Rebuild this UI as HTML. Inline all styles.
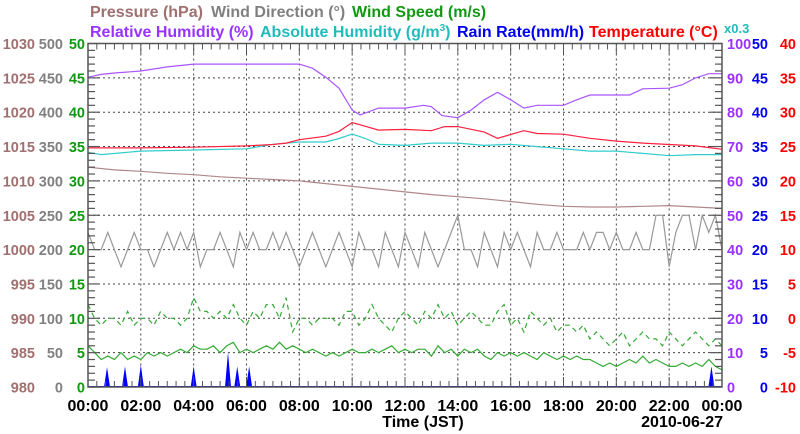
<!DOCTYPE html>
<html><head><meta charset="utf-8"><style>
html,body{margin:0;padding:0;background:#fff}
svg{display:block;font-family:"Liberation Sans",sans-serif;font-weight:bold}
</style></head><body>
<svg id="chart" width="800" height="434" viewBox="0 0 800 434">
<g id="grid"></g>
<g id="series"></g>
<g id="axes"></g>
<g font-size="16">
<text x="90" y="17" fill="#a07070">Pressure (hPa)</text>
<text x="211" y="17" fill="#808080">Wind Direction (°)</text>
<text x="352" y="17" fill="#119911">Wind Speed (m/s)</text>
<text x="90" y="37" fill="#9933ff">Relative Humidity (%)</text>
<text x="260" y="37" fill="#22bbbb">Absolute Humidity (g/m<tspan font-size="10" dy="-6">3</tspan><tspan dy="6">)</tspan></text>
<text x="457" y="37" fill="#0000ee">Rain Rate(mm/h)</text>
<text x="589" y="37" fill="#ff0000">Temperature (°C)</text>
<text x="724" y="33" font-size="13" fill="#22bbbb">x0.3</text>
</g>
<text x="423" y="427" text-anchor="middle" font-size="16" fill="#000">Time (JST)</text>
<text x="723" y="427" text-anchor="end" font-size="16" fill="#000">2010-06-27</text>
</svg>
<script>
// ---- data ----
const pressureHours = [0,1,2,3,4,5,6,7,8,9,10,11,12,13,14,15,16,17,18,19,20,21,22,23,24];
const pressureValues = [1012,1011.6,1011.4,1011.1,1010.9,1010.6,1010.4,1010.2,1010.0,1009.6,1009.2,1008.8,1008.4,1008.0,1007.7,1007.4,1007.0,1006.6,1006.3,1006.2,1006.2,1006.3,1006.4,1006.2,1006.0];
const windDirValues = [225,200,200,225,200,175,200,225,200,200,175,200,225,200,225,200,225,175,200,200,225,200,175,225,200,
225,200,200,225,200,225,200,175,200,225,200,175,200,225,200,175,225,200,200,175,225,200,175,225,
200,175,225,200,175,200,225,250,200,200,175,225,200,175,225,200,225,200,175,225,200,200,225,200,
200,200,225,200,225,225,200,225,200,200,225,200,200,250,250,175,225,250,250,200,250,225,250,200];
const windSpeedValues = [6,5,4,4.5,4,5,4,4.5,4,5,4.5,5,4.5,5,5.5,5,6,5.5,5.5,6,5,6,6.5,5,5.5,
5,5.5,6,5.5,6.5,5.5,6,5.5,5,5.5,5,4.5,5,4.5,5,5.5,5,5,5.5,5,5.5,6,5,5.5,
5,5.5,5.5,4.5,6,5,5.5,4.5,5.5,5,5.5,4.5,4,5,4.5,5,4.5,5,4.5,4,5,4.5,4,4.5,
4,4.5,4,4,3.5,3,3.5,3,3.5,4,3.5,4.5,3.5,4,3.5,3,3,3.5,3,3.5,3,4,3,2.5];
const windGustValues = [12,10,9,10,10,9,11,9,10,10,9,11,10,10,9,10,13,11,11,10,11,10,12,10,9,
11,10,12,12,10,13,8,10,10,9,10,10,10,9,11,11,9,10,12,10,9,8,10,11,
10,9,11,10,12,10,11,9,10,11,10,9,9,11,12,9,10,8,11,10,9,10,8,9,
9,8,9,7,8,7,6,7,8,6,7,8,7,7,6,8,7,6,7,8,7,6,7,6];
const halfHours = [0,0.5,1,2,3,4,6,8,8.5,9,9.5,10,10.3,11,12,12.7,13,13.4,14,14.5,15,15.5,16,16.5,17,18,18.5,19,19.5,20,20.5,21,22,22.5,23,23.5,24];
const rhValues = [90.2,91,91.4,92,93.2,94,94,94,92.8,90.2,87,80.6,79.2,81.2,81.2,82,81.6,79,78.4,80.6,83.6,85.8,83.6,81.2,82,82,83.6,85,85,85,85,86.8,87,88,90,91.2,91.2];
const tempHours = [0,2,4,6,7,7.5,8,9,9.5,10,11,12,13,13.5,14,15,15.5,16.5,17,18,19,20,21,22,23,24];
const tempValues = [24.8,24.8,24.9,25.1,25.3,25.5,26,26.5,27.2,28.5,27.4,27.5,27.3,27.9,27.9,27.1,26.2,27.3,26.9,26.8,26.2,25.8,25.5,25.3,25.1,24.6];
const absHours = [0,0.5,2,4,6,7,8,9,9.5,10,10.5,11,12,13,14,15,16,17,18,19,20,21,22,23,24];
const absHumValues = [20.5,20.3,20.6,20.7,20.8,21.2,21.4,21.4,21.7,22.1,21.7,21.2,21.1,21.3,21.3,21.1,21.2,21.0,20.8,20.6,20.6,20.4,20.2,20.3,20.3];
const rainTimes = [0.72,1.4,2.0,4.0,5.3,5.65,6.1,23.6];
const rainValues = [2.9,3.0,3.2,3.0,5.1,3.0,3.0,3.0];
const xTickLabels = ["00:00","02:00","04:00","06:00","08:00","10:00","12:00","14:00","16:00","18:00","20:00","22:00","00:00"];
const pressureTicks = [980,985,990,995,1000,1005,1010,1015,1020,1025,1030];
const dirTicks = [0,50,100,150,200,250,300,350,400,450,500];
const speedTicks = [0,5,10,15,20,25,30,35,40,45,50];
const rhTicks = [0,10,20,30,40,50,60,70,80,90,100];
const rainTicks = [0,5,10,15,20,25,30,35,40,45,50];
const tempTicks = [-10,-5,0,5,10,15,20,25,30,35,40];

// ---- scales ----
const X0=88, X1=722, Y0=387, Y1=43.5;
const NS="http://www.w3.org/2000/svg";
const x = h => X0 + (X1-X0)*h/24;
const y = u => Y0 - (Y0-Y1)*u/50;
const yP = p => y(p-980), yD = d => y(d/10), yS = s => y(s), yRH = r => y(r/2),
      yT = t => y(t+10), yA = a => y(a/0.3/2), yR = r => y(r);
function mk(tag, attrs, parent){const e=document.createElementNS(NS,tag);for(const k in attrs)e.setAttribute(k,attrs[k]);parent.appendChild(e);return e;}
const grid=document.getElementById('grid'), ser=document.getElementById('series'), axes=document.getElementById('axes');

for(let i=1;i<10;i++){const g=mk('line',{x1:X0,x2:X1,y1:y(i*5),y2:y(i*5),stroke:'#444','stroke-width':1,'stroke-dasharray':'2,3'},grid);

}
for(let i=1;i<12;i++){const g=mk('line',{x1:x(i*2),x2:x(i*2),y1:Y1,y2:Y0,stroke:'#444','stroke-width':1,'stroke-dasharray':'2,3'},grid);

}

function line(xs, vals, fx, fy, color, name, dash){
  const pts = vals.map((v,i)=>fx(xs[i]).toFixed(1)+','+fy(v).toFixed(1)).join(' ');
  const p = mk('polyline',{points:pts,fill:'none',stroke:color,'stroke-width':1.2},ser);
  if(dash) p.setAttribute('stroke-dasharray',dash);
  
  
}
const q = windDirValues.map((_,i)=>i*0.25);
line(q, windDirValues, x, yD, '#999999', 'wind-direction-line');
line(pressureHours, pressureValues, x, yP, '#b08888', 'pressure-line');
line(q, windGustValues, x, yS, '#33aa33', 'wind-gust-line', '5,4');
line(q, windSpeedValues, x, yS, '#33aa33', 'wind-speed-line');
line(absHours, absHumValues, x, yA, '#33cccc', 'abs-humidity-line');
line(tempHours, tempValues, x, yT, '#ff2040', 'temperature-line');
line(halfHours, rhValues, x, yRH, '#aa55ff', 'relative-humidity-line');
rainTimes.forEach((t,i)=>{
  const r = mk('polygon',{points:`${x(t)-3},${Y0} ${x(t)},${yR(rainValues[i])} ${x(t)+3},${Y0}`,fill:'#0000ff'},ser);
  
  
});
const rb = mk('line',{x1:X0,x2:X1,y1:Y0-0.5,y2:Y0-0.5,stroke:'#0000ff','stroke-width':1},ser);



const fr = mk('rect',{x:X0,y:Y1,width:X1-X0,height:Y0-Y1,fill:'none',stroke:'#555','stroke-width':1.5},axes);


for(let u=0;u<=50;u++){const L=(u%5==0)?12:7;
  mk('line',{x1:X0,x2:X0+L,y1:y(u),y2:y(u),stroke:'#555','stroke-width':1.2},axes);
  mk('line',{x1:X1-L,x2:X1,y1:y(u),y2:y(u),stroke:'#555','stroke-width':1.2},axes);}
for(let m=0;m<=72;m++){const L=(m%6==0)?10:6;const xx=x(m/3);
  mk('line',{x1:xx,x2:xx,y1:Y0,y2:Y0-L,stroke:'#555','stroke-width':1},axes);
  mk('line',{x1:xx,x2:xx,y1:Y1,y2:Y1+L,stroke:'#555','stroke-width':1},axes);}

function lab(txt,xx,yy,anchor,color,name,size){
  const t=mk('text',{x:xx,y:yy,'text-anchor':anchor,fill:color,'font-size':size||16},axes);
  t.textContent=txt;
  
  
}
for(let i=0;i<=10;i++){const yy=y(i*5)+5.5;
  lab(pressureTicks[i],35,yy,'end','#a07070','pressure-tick',14.5);
  lab(dirTicks[i],63,yy,'end','#808080','direction-tick',14.5);
  lab(speedTicks[i],85,yy,'end','#119911','speed-tick',14.5);
  lab(rhTicks[i],727,yy,'start','#9933ff','rh-tick',14.5);
  lab(rainTicks[i],768,yy,'end','#0000ee','rain-tick',14.5);
  lab(tempTicks[i],796,yy,'end','#ff0000','temp-tick',14.5);}
xTickLabels.forEach((s,i)=>lab(s,x(i*2),411,'middle','#000','x-tick'));
</script>
</body></html>
